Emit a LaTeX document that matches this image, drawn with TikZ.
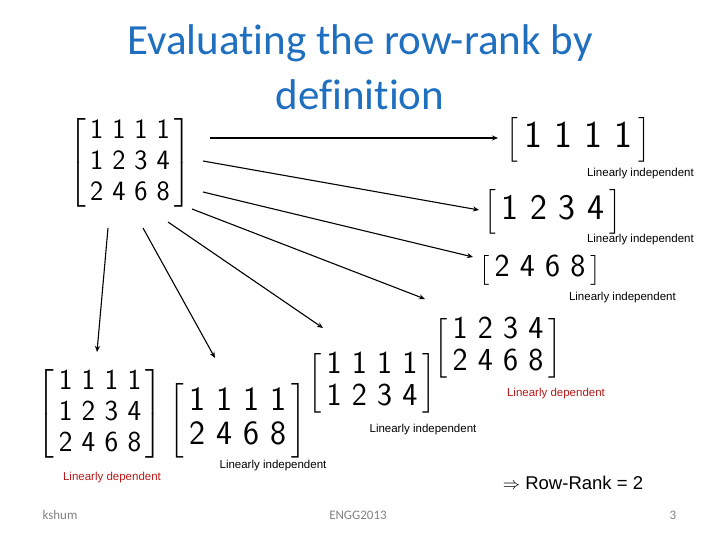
\documentclass[tikz,border=0pt]{standalone}
\usepackage{amsmath}
\usepackage{fontspec}
\newfontfamily\titlefont[Ligatures=NoCommon]{Carlito}
\newfontfamily\arialfont{Liberation Sans}
\usetikzlibrary{arrows.meta}
\definecolor{titleblue}{RGB}{31,111,193}
\definecolor{depred}{RGB}{185,25,25}
\definecolor{footgray}{RGB}{130,130,130}
\newcommand{\mtx}[1]{$\left[\vcenter{\hbox{\sffamily\setlength{\tabcolsep}{0.16em}\begin{tabular}{cccc}#1\end{tabular}}}\right]$}

\begin{document}
\begin{tikzpicture}[x=1pt, y=-1pt,
  mat/.style 2 args={inner sep=0pt, font=\fontsize{#1}{#2}\selectfont},
  title/.style={inner sep=0pt, text=titleblue, font=\titlefont\fontsize{43}{50}\selectfont},
  indep/.style={inner sep=0pt, font=\arialfont\fontsize{11.5}{13}\selectfont},
  dep/.style={indep, text=depred},
  foot/.style={inner sep=0pt, text=footgray, font=\titlefont\fontsize{13}{15}\selectfont},
  arrow/.style={-{Stealth[length=6pt, width=5pt]}, line width=1.1pt},
]
\useasboundingbox (0,0) rectangle (720,540);

% Title
\node[title] (title1) at (360,43) {Evaluating the row-rank by};
\node[title] (title2) at (360,95) {definition};

% Full matrix
\node[mat={28}{31}] (full) at (130,163) {\mtx{1&1&1&1\\1&2&3&4\\2&4&6&8}};

% Single rows
\node[mat={38}{33}] (row1) at (578,140) {\mtx{1&1&1&1}};
\node[indep, anchor=east] (lbl1) at (694,174) {Linearly independent};
\node[mat={36}{31}] (row2) at (553,212) {\mtx{1&2&3&4}};
\node[indep, anchor=east] (lbl2) at (694,240) {Linearly independent};
\node[mat={32}{29}] (row3) at (540,270) {\mtx{2&4&6&8}};
\node[indep, anchor=east] (lbl3) at (676,298) {Linearly independent};

% Pairs of rows
\node[mat={32}{32}] (pair23) at (498,348) {\mtx{1&2&3&4\\2&4&6&8}};
\node[dep] (lbl23) at (556,394) {Linearly dependent};
\node[mat={32}{32}] (pair12) at (372,383) {\mtx{1&1&1&1\\1&2&3&4}};
\node[indep] (lbl12) at (423,430) {Linearly independent};
\node[mat={34}{34}] (pair13) at (238,421) {\mtx{1&1&1&1\\2&4&6&8}};
\node[indep] (lbl13) at (273,466) {Linearly independent};

% All three rows
\node[mat={29}{31}] (all) at (100,414) {\mtx{1&1&1&1\\1&2&3&4\\2&4&6&8}};
\node[dep] (lblall) at (112,478) {Linearly dependent};

% Result
\node[inner sep=0pt, font=\arialfont\fontsize{18.5}{21}\selectfont] (rank) at (573,483) {$\Rightarrow$ Row-Rank = 2};

% Footer
\node[foot] (author) at (60,515) {kshum};
\node[foot] (course) at (358,515) {ENGG2013};
\node[foot] (page) at (673,515) {3};

% Arrow ends
\coordinate (s1) at (210,138); \coordinate (e1) at (498,138);
\coordinate (s2) at (203,161); \coordinate (e2) at (479,210);
\coordinate (s3) at (203,192); \coordinate (e3) at (473,257);
\coordinate (s4) at (192,209); \coordinate (e4) at (425,299);
\coordinate (s5) at (168,222); \coordinate (e5) at (323,328);
\coordinate (s6) at (143,228); \coordinate (e6) at (215,358);
\coordinate (s7) at (108,228); \coordinate (e7) at (97,352);

% Arrows
\draw[arrow] (s1) -- (e1);
\draw[arrow] (s2) -- (e2);
\draw[arrow] (s3) -- (e3);
\draw[arrow] (s4) -- (e4);
\draw[arrow] (s5) -- (e5);
\draw[arrow] (s6) -- (e6);
\draw[arrow] (s7) -- (e7);
\end{tikzpicture}
\end{document}
